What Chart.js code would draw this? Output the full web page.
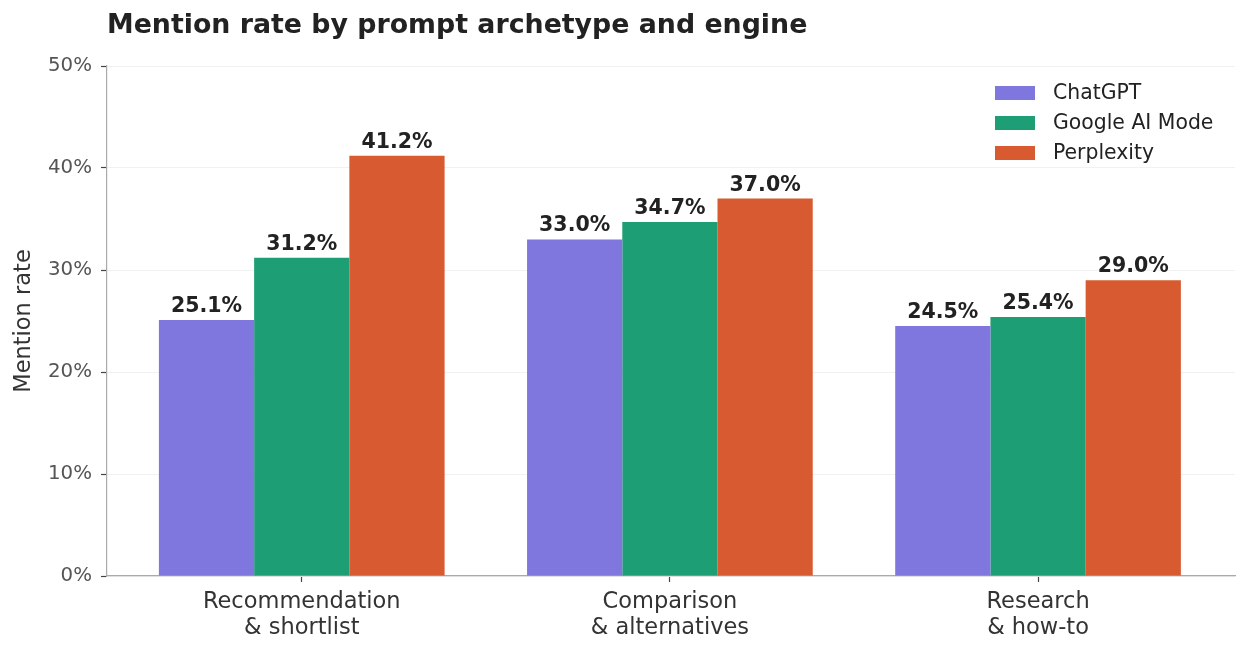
<!DOCTYPE html>
<html>
<head>
<meta charset="utf-8">
<script src="https://cdn.jsdelivr.net/npm/chart.js@4"></script>
<style>
html,body{margin:0;padding:0;background:#fff;}
#wrap{width:1248px;height:654px;}
</style>
</head>
<body>
<div id="wrap"><canvas id="c" width="1248" height="654"></canvas></div>
<script>
const chartTitle = "Mention rate by prompt archetype and engine";
const categories = [["Recommendation", "& shortlist"], ["Comparison", "& alternatives"], ["Research", "& how-to"]];
const seriesNames = ["ChatGPT", "Google AI Mode", "Perplexity"];
const chatgpt = [25.1, 33.0, 24.5];
const googleAI = [31.2, 34.7, 25.4];
const perplexity = [41.2, 37.0, 29.0];
const yTicks = [0, 10, 20, 30, 40, 50];
const colors = ["#7F77DD", "#1D9E75", "#D85A30"];

const FONT = "'DejaVu Sans', sans-serif";
const seriesValues = [chatgpt, googleAI, perplexity];

const datasets = seriesValues.map((vals, s) => ({
  label: seriesNames[s],
  data: vals.map((v, i) => ({x: i, y: v})),
  backgroundColor: colors[s],
  borderWidth: 0,
  categoryPercentage: 0.776,
  barPercentage: 1.0
}));

const overlay = {
  id: 'overlay',
  afterDatasetsDraw(chart) {
    const ctx = chart.ctx;
    ctx.save();
    // value labels
    ctx.font = "bold 20.5px " + FONT;
    ctx.fillStyle = "#222";
    ctx.textAlign = "center";
    ctx.textBaseline = "alphabetic";
    chart.data.datasets.forEach((ds, di) => {
      const meta = chart.getDatasetMeta(di);
      meta.data.forEach((bar, i) => {
        const v = ds.data[i].y;
        ctx.fillText(v.toFixed(1) + "%", bar.x, bar.y - 8);
      });
    });
    // title
    ctx.font = "bold 26.8px " + FONT;
    ctx.fillStyle = "#222";
    ctx.textAlign = "left";
    ctx.textBaseline = "middle";
    ctx.fillText(chartTitle, chart.chartArea.left, 26);
    // legend
    ctx.font = "20.4px " + FONT;
    const lx = 995, ly = 93, gap = 30;
    chart.data.datasets.forEach((ds, di) => {
      const y = ly + di * gap;
      ctx.fillStyle = ds.backgroundColor;
      ctx.fillRect(lx, y - 7, 40, 14);
      ctx.fillStyle = "#222";
      ctx.textAlign = "left";
      ctx.textBaseline = "middle";
      ctx.fillText(ds.label, lx + 58, y + 1);
    });
    ctx.restore();
  }
};

new Chart(document.getElementById('c'), {
  type: 'bar',
  data: { datasets },
  options: {
    responsive: false,
    animation: false,
    devicePixelRatio: 1,
    layout: { padding: { top: 66, right: 13, left: 0, bottom: 0 } },
    plugins: { legend: { display: false }, title: { display: false }, tooltip: { enabled: false } },
    scales: {
      x: {
        type: 'linear',
        offset: false,
        min: -0.529,
        max: 2.535,
        afterBuildTicks(scale) { scale.ticks = categories.map((c, i) => ({ value: i })); },
        afterFit(scale) { scale.height = 78; },
        ticks: {
          autoSkip: false,
          maxRotation: 0,
          padding: 7,
          color: "#333",
          font: { family: FONT, size: 22.5, lineHeight: 1.17 },
          callback: (v) => categories[v]
        },
        grid: { offset: false, drawOnChartArea: false, drawTicks: true, tickLength: 6, tickColor: "#444", tickWidth: 1.2 },
        border: { color: "#aaaaaa", width: 1.2 }
      },
      y: {
        min: 0,
        max: 50,
        afterBuildTicks(scale) { scale.ticks = yTicks.map(v => ({ value: v })); },
        afterFit(scale) { scale.width = 107; },
        ticks: {
          padding: 9,
          color: "#555",
          font: { family: FONT, size: 19.8 },
          callback: (v) => v + "%"
        },
        grid: { color: "#f1f1f1", lineWidth: 1, drawTicks: true, tickLength: 6, tickColor: "#444", tickWidth: 1.2 },
        border: { color: "#aaaaaa", width: 1.2 },
        title: {
          display: true,
          text: "Mention rate",
          color: "#333",
          font: { family: FONT, size: 22.5 },
          padding: { top: 11, bottom: 0 }
        }
      }
    }
  },
  plugins: [overlay]
});
</script>
</body>
</html>
